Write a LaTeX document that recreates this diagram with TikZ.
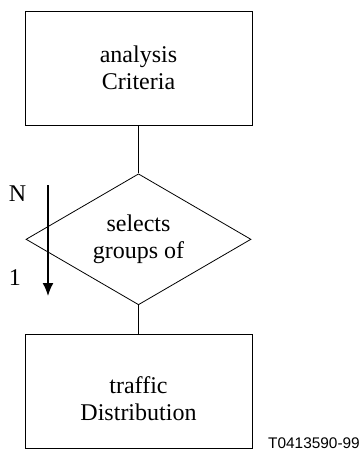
\documentclass[tikz,border=0pt]{standalone}
\usepackage{fontspec}
\setmainfont{Liberation Serif}
\newfontfamily\tagfont{Liberation Sans}
\usetikzlibrary{positioning, shapes.geometric, arrows.meta}

\tikzset{
    box/.style={draw, line width=0.8pt, minimum width=227pt, minimum height=114pt,
        align=center, font=\fontsize{24}{27}\selectfont},
    choice/.style={draw, diamond, shape aspect=1.72, line width=0.8pt, inner sep=0pt,
        minimum width=225pt, minimum height=131pt, align=center,
        font=\fontsize{24}{27}\selectfont},
    link/.style={line width=1.6pt},
    mark label/.style={font=\fontsize{24}{27}\selectfont, inner sep=0pt}
}

\begin{document}
\begin{tikzpicture}[x=1pt, y=-1pt]
        \useasboundingbox (0,0) rectangle (360,451);

        \node[box] (criteria) at (138.5,68) {analysis\\Criteria};
        \node[choice, below=48pt of criteria] (select) {selects\\groups of};
        \node[box, below=29pt of select] (traffic) {\rule{0pt}{32pt}traffic\\Distribution};

        \draw[link] (criteria) -- (select);
        \draw[link] (select) -- (traffic);

        % order of the groups
        \coordinate (top) at (48,185);
        \coordinate (bottom) at (48,296);
        \draw[link, -{Latex[length=13pt, width=11pt]}] (top) -- (bottom);
        \node[mark label] (n) at (17.5,194) {N};
        \node[mark label] (one) at (15,278) {1};

        \node[anchor=base east, inner sep=0pt, font=\tagfont\fontsize{15.4}{18}\selectfont] (tag) at (360,448) {T0413590-99};
\end{tikzpicture}
\end{document}
